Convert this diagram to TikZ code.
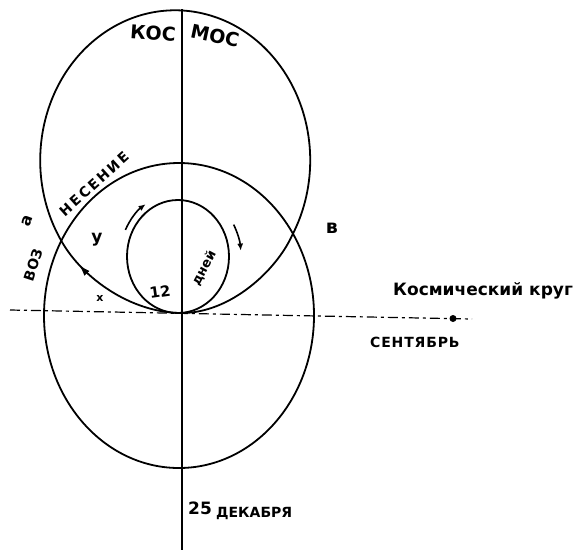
\documentclass[tikz,border=0pt]{standalone}
\usepackage{fontspec}
\setmainfont{DejaVu Sans}
\usetikzlibrary{arrows.meta,decorations.markings}
\begin{document}
\begin{tikzpicture}[x=1pt,y=-1pt,
  curve/.style={line width=1.8pt, black},
  axisline/.style={line width=1.4pt, black},
  smallarrow/.style={line width=1.6pt, -{Latex[length=7pt,width=6pt]}},
  lbl/.style={inner sep=0pt, text=black},
]
\useasboundingbox (0,0) rectangle (588,550);
\coordinate (O) at (182,313);
\coordinate (A) at (62,242);
\coordinate (C) at (178,256.5);
\coordinate (Cbot) at (179,315.5);
\coordinate (Vtop) at (182,9);
\coordinate (Vbot) at (182,550);
\coordinate (Hl) at (10,310);
\coordinate (Hr) at (472,319);
\coordinate (D) at (453,318.5);
% axes
\draw[axisline] (Vtop) -- (Vbot);
\draw[line width=1.2pt, dash pattern=on 10pt off 4pt on 3pt off 4pt] (Hl) -- (Hr);
\fill (D) circle (3.5);
% lower circle
\draw[curve] (Cbot) ellipse [x radius=135, y radius=152.5];
% upper loop
\draw[curve] (O) .. controls (130,313) and (82,277) .. (A)
   arc [start angle=147, end angle=390, x radius=135, y radius=150]
   .. controls (276,271) and (230,313) .. (O);
% arrow on the left branch
\path[decorate, decoration={markings, mark=at position 0.8 with {\arrow[line width=1pt]{Latex[length=11pt,width=7pt]}}}]
   (O) .. controls (130,313) and (82,277) .. (A);
% small circle
\draw[curve] (C) ellipse [x radius=51, y radius=56.5];
% small arrows around it
\draw[smallarrow] ([shift={(205:58 and 63)}]C) arc [start angle=205, end angle=236, x radius=58, y radius=63];
\draw[smallarrow] ([shift={(-28:63 and 68)}]C) arc [start angle=-28, end angle=-5, x radius=63, y radius=68];
% labels
\node[lbl, font=\fontsize{19}{19}\selectfont\bfseries, rotate=-4] (kos) at (153,33) {КОС};
\node[lbl, font=\fontsize{19}{19}\selectfont\bfseries, rotate=-12] (mos) at (215,36) {МОС};
\node[lbl, font=\fontsize{14}{14}\selectfont\bfseries, rotate=72] (voz) at (33,265) {ВОЗ};
\node[lbl, font=\fontsize{14}{14}\selectfont\bfseries\addfontfeature{LetterSpace=16}, rotate=42] (nes) at (94,184) {НЕСЕНИЕ};
\node[lbl, font=\fontsize{16}{16}\selectfont\bfseries, rotate=70] (la) at (27,221) {а};
\node[lbl, font=\fontsize{17}{17}\selectfont\bfseries] (ly) at (97,240) {у};
\node[lbl, font=\fontsize{19}{19}\selectfont\bfseries] (lv) at (332,228) {в};
\node[lbl, font=\fontsize{11}{11}\selectfont\bfseries] (lx) at (100,298) {x};
\node[lbl, font=\fontsize{15}{15}\selectfont\bfseries, rotate=8] (l12) at (160,292) {12};
\node[lbl, font=\fontsize{13}{13}\selectfont\bfseries, rotate=62] (dney) at (204,268) {дней};
\node[lbl, font=\fontsize{17}{17}\selectfont\bfseries, anchor=west] (kk) at (393,291) {Космический круг};
\node[lbl, font=\fontsize{14}{14}\selectfont\bfseries\addfontfeature{LetterSpace=6}, anchor=west] (sent) at (370,342) {СЕНТЯБРЬ};
\node[lbl, font=\fontsize{17}{17}\selectfont\bfseries, anchor=west] (d25) at (188,508) {25};
\node[lbl, font=\fontsize{14}{14}\selectfont\bfseries, anchor=west] (dek) at (216,513) {ДЕКАБРЯ};
\end{tikzpicture}
\end{document}
